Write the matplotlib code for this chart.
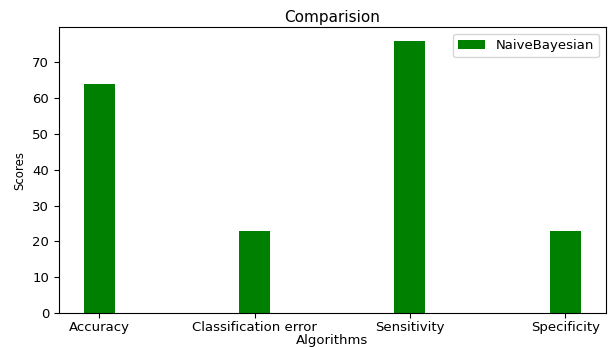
import numpy as np
import matplotlib
matplotlib.use("Agg")
import matplotlib.pyplot as plt

# scores
metrics = ['Accuracy', 'Classification error', 'Sensitivity', 'Specificity']
naive_bayes = [64, 23, 76, 23]

fig, ax = plt.subplots(figsize=(6.13, 3.47), dpi=100)
fig.subplots_adjust(left=0.096, right=0.988, top=0.922, bottom=0.098)

x = np.arange(len(metrics))
ax.bar(x, naive_bayes, width=0.2, color='green', label='NaiveBayesian')

ax.set_xticks(x)
ax.set_xticklabels(metrics, fontsize=9.5)
ax.tick_params(axis='y', labelsize=9.5)
ax.tick_params(axis='x', pad=2)
ax.set_xlabel('Algorithms', fontsize=9.5, labelpad=0)
ax.set_ylabel('Scores', fontsize=8.5)
ax.set_title('Comparision', fontsize=11, pad=4)
ax.legend(fontsize=9.5)

plt.savefig('out.png')
